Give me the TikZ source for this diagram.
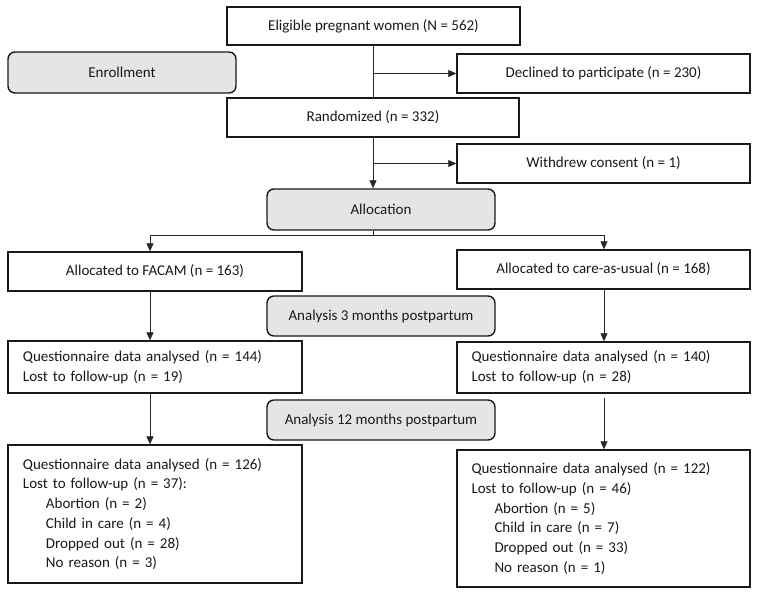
\documentclass[tikz,border=0pt]{standalone}
\usepackage{fontspec}
\setmainfont{Carlito}
\usetikzlibrary{arrows.meta}
\begin{document}
\begin{tikzpicture}[x=1pt,y=-1pt,
  box/.style={draw=black!90, line width=1.4pt, inner sep=0pt, fill=white,
    font=\fontsize{15}{19.7}\selectfont, text=black!90},
  phase/.style={box, rounded corners=7pt, fill=black!10},
  listbox/.style={box, align=left},
  conn/.style={draw=black!85, line width=0.8pt},
  arr/.style={conn, -{Triangle[length=8pt,width=7pt]}}
]
\useasboundingbox (0,0) rectangle (761,595);

% boxes
\node[box, minimum width=293pt, minimum height=38pt] (elig) at (373.5,26) {Eligible pregnant women (N = 562)};
\node[phase, minimum width=228pt, minimum height=41pt] (enrol) at (122,72.5) {Enrollment};
\node[box, minimum width=293pt, minimum height=39pt] (decl) at (603.5,73.5) {Declined to participate (n = 230)};
\node[box, minimum width=292pt, minimum height=39pt] (rand) at (373,117.5) {Randomized (n = 332)};
\node[box, minimum width=293pt, minimum height=39pt] (withd) at (603.5,163.5) {Withdrew consent (n = 1)};
\node[phase, minimum width=228pt, minimum height=41pt] (alloc) at (381,209.5) {Allocation};
\node[box, minimum width=294pt, minimum height=39pt] (facam) at (155,271.5) {Allocated to FACAM (n = 163)};
\node[box, minimum width=293pt, minimum height=39pt] (care) at (603.5,269.5) {Allocated to care-as-usual (n = 168)};
\node[phase, minimum width=228pt, minimum height=40pt] (a3) at (381,316) {Analysis 3 months postpartum};
\node[listbox, text width=264pt, minimum width=294pt, minimum height=52pt] (q1l) at (155,367)
  {Questionnaire data analysed (n = 144)\\ Lost to follow-up (n = 19)};
\node[listbox, text width=264pt, minimum width=293pt, minimum height=51pt] (q1r) at (603.5,367.5)
  {Questionnaire data analysed (n = 140)\\ Lost to follow-up (n = 28)};
\node[phase, minimum width=228pt, minimum height=40pt] (a12) at (381,420) {Analysis 12 months postpartum};
\node[listbox, text width=264pt, minimum width=294pt, minimum height=138pt] (q2l) at (155,514)
  {Questionnaire data analysed (n = 126)\\ Lost to follow-up (n = 37):\\
   \hspace*{23pt}Abortion (n = 2)\\ \hspace*{23pt}Child in care (n = 4)\\
   \hspace*{23pt}Dropped out (n = 28)\\ \hspace*{23pt}No reason (n = 3)};
\node[listbox, text width=264pt, minimum width=293pt, minimum height=137pt] (q2r) at (603.5,518.5)
  {Questionnaire data analysed (n = 122)\\ Lost to follow-up (n = 46)\\
   \hspace*{23pt}Abortion (n = 5)\\ \hspace*{23pt}Child in care (n = 7)\\
   \hspace*{23pt}Dropped out (n = 33)\\ \hspace*{23pt}No reason (n = 1)};

% connector coordinates
\coordinate (m) at (373,0);
\coordinate (b1) at (373,73.5);
\coordinate (b2) at (373,163.5);
\coordinate (s) at (373,235);
\coordinate (lc) at (150,235);
\coordinate (rc) at (604,235);

% connectors
\draw[conn] (elig.south -| m) -- (rand.north -| m);
\draw[arr] (b1) -- (decl.west);
\draw[arr] (rand.south -| m) -- (alloc.north -| m);
\draw[arr] (b2) -- (withd.west);
\draw[conn] (alloc.south -| m) -- (s);
\draw[conn] (lc) -- (rc);
\draw[arr] (lc) -- (lc |- facam.north);
\draw[arr] (rc) -- (rc |- care.north);
\draw[arr] (facam.south -| lc) -- (q1l.north -| lc);
\draw[arr] (care.south -| rc) -- (q1r.north -| rc);
\draw[arr] (q1l.south -| lc) -- (q2l.north -| lc);
\draw[arr, shorten <=4pt] (q1r.south -| rc) -- (q2r.north -| rc);
\end{tikzpicture}
\end{document}
